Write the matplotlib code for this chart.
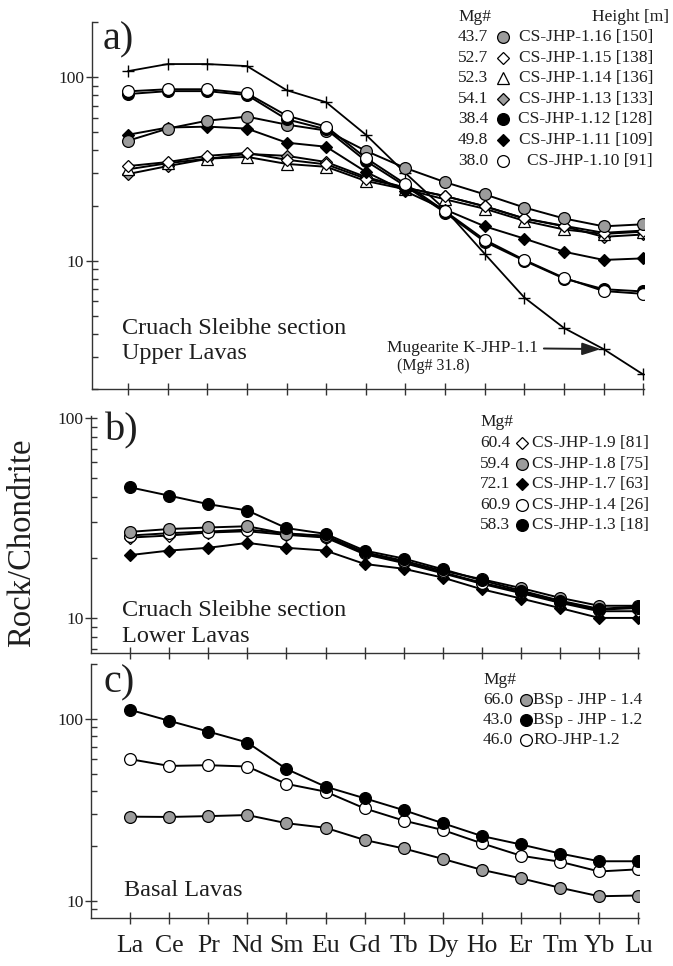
import matplotlib
matplotlib.use("Agg")
import matplotlib.pyplot as plt
from matplotlib.ticker import LogLocator, NullFormatter, FixedLocator, FixedFormatter

plt.rcParams['font.family'] = ['Liberation Serif', 'DejaVu Serif']

# ---------------- data ----------------
elements = ["La", "Ce", "Pr", "Nd", "Sm", "Eu", "Gd", "Tb", "Dy", "Ho", "Er", "Tm", "Yb", "Lu"]

# Upper Lavas (Cruach Sleibhe section)
cs_116 = [45.1, 52.5, 58.0, 61.0, 55.2, 51.2, 39.7, 32.0, 26.8, 23.0, 19.5, 17.0, 15.4, 15.8]
cs_115 = [32.8, 34.5, 37.3, 38.7, 35.5, 33.5, 28.0, 25.0, 22.5, 19.8, 17.0, 15.5, 14.2, 14.6]
cs_114 = [31.5, 34.0, 36.0, 36.8, 33.7, 32.5, 27.2, 24.5, 21.6, 19.2, 16.5, 14.8, 14.0, 14.4]
cs_113 = [29.7, 32.8, 35.9, 38.2, 37.3, 34.5, 28.6, 25.0, 22.5, 19.8, 17.0, 15.4, 13.5, 13.9]
cs_112 = [81.0, 84.0, 84.0, 80.0, 59.0, 52.0, 35.0, 25.5, 18.3, 12.7, 10.0, 8.0, 7.0, 6.8]
cs_111 = [48.6, 53.2, 53.8, 52.5, 44.0, 41.8, 30.5, 23.9, 19.0, 15.4, 13.2, 11.2, 10.1, 10.3]
cs_110 = [83.8, 86.0, 86.0, 81.7, 61.8, 53.8, 36.3, 26.2, 18.6, 13.0, 10.1, 8.07, 6.84, 6.6]
mugearite = [108, 118, 118, 115, 85, 73, 48.6, 30, 19, 10.9, 6.3, 4.3, 3.3, 2.4]

upper_mg = ["43.7", "52.7", "52.3", "54.1", "38.4", "49.8", "38.0"]
upper_names = ["CS-JHP-1.16 [150]", "CS-JHP-1.15 [138]", "CS-JHP-1.14 [136]",
               "CS-JHP-1.13 [133]", "CS-JHP-1.12 [128]", "CS-JHP-1.11 [109]",
               "CS-JHP-1.10 [91]"]

# Lower Lavas (Cruach Sleibhe section)
cs_19 = [25.2, 25.8, 26.7, 27.1, 26.0, 25.2, 20.8, 18.8, 16.7, 14.8, 13.3, 11.9, 10.8, 10.8]
cs_18 = [26.9, 27.8, 28.3, 28.7, 26.3, 25.8, 21.3, 19.3, 17.2, 15.6, 14.1, 12.6, 11.5, 11.5]
cs_17 = [20.6, 21.7, 22.4, 23.7, 22.4, 21.7, 18.6, 17.6, 15.9, 13.9, 12.5, 11.2, 10.0, 10.0]
cs_14 = [25.8, 26.5, 27.0, 27.6, 26.5, 25.5, 21.0, 19.0, 16.9, 15.0, 13.5, 12.0, 11.0, 11.2]
cs_13 = [44.9, 40.8, 37.0, 34.4, 28.1, 26.3, 21.7, 19.8, 17.5, 15.4, 13.7, 12.2, 11.1, 11.4]

lower_mg = ["60.4", "59.4", "72.1", "60.9", "58.3"]
lower_names = ["CS-JHP-1.9 [81]", "CS-JHP-1.8 [75]", "CS-JHP-1.7 [63]",
               "CS-JHP-1.4 [26]", "CS-JHP-1.3 [18]"]

# Basal Lavas
bsp_14 = [29.0, 28.9, 29.2, 29.6, 26.7, 25.2, 21.6, 19.4, 17.0, 14.8, 13.3, 11.8, 10.6, 10.7]
bsp_12 = [112, 97.5, 85.1, 74.1, 53.0, 42.4, 36.6, 31.5, 26.7, 22.7, 20.4, 18.2, 16.5, 16.5]
ro_12 = [60.0, 55.1, 55.6, 54.7, 43.9, 39.8, 32.2, 27.6, 24.5, 20.7, 17.7, 16.4, 14.5, 14.9]

basal_mg = ["66.0", "43.0", "46.0"]
basal_names = ["BSp - JHP - 1.4", "BSp - JHP - 1.2", "RO-JHP-1.2"]

# ---------------- styles ----------------
W, H = 673, 966
GREY = "#9c9c9c"
TXT = "#1e1e1e"
AX = "#333333"

STY = {
    "grey_circle": dict(marker="o", ms=8.5, mfc=GREY, mec="black", mew=0.9),
    "white_circle": dict(marker="o", ms=8.5, mfc="white", mec="black", mew=0.9),
    "black_circle": dict(marker="o", ms=8.5, mfc="black", mec="black", mew=0.9),
    "white_diamond": dict(marker="D", ms=6, mfc="white", mec="black", mew=0.9),
    "grey_diamond": dict(marker="D", ms=6, mfc=GREY, mec="black", mew=0.9),
    "black_diamond": dict(marker="D", ms=6, mfc="black", mec="black", mew=0.9),
    "white_triangle": dict(marker="^", ms=8, mfc="white", mec="black", mew=0.9),
    "plus": dict(marker="+", ms=8, mfc="black", mec="black", mew=1.0),
}

fig = plt.figure(figsize=(W / 100, H / 100), dpi=100)


def px_axes(left, top, right, bottom):
    return fig.add_axes([left / W, 1 - bottom / H, (right - left) / W, (bottom - top) / H])


def fx(x):
    return x / W


def fy(y):
    return 1 - y / H


def style_axes(ax, ylim, xlim, show_xlabels=False):
    ax.set_yscale("log")
    ax.set_ylim(*ylim)
    ax.set_xlim(*xlim)
    for s in ("top", "right"):
        ax.spines[s].set_visible(False)
    for s in ("left", "bottom"):
        ax.spines[s].set_color(AX)
        ax.spines[s].set_linewidth(1.0)
    ax.yaxis.set_major_locator(LogLocator(base=10, numticks=10))
    ax.yaxis.set_minor_locator(LogLocator(base=10, subs=range(2, 10), numticks=20))
    ax.yaxis.set_minor_formatter(NullFormatter())
    ax.yaxis.set_major_formatter(plt.FuncFormatter(lambda v, p: f"{v:g}"))
    ax.tick_params(axis="y", which="major", direction="inout", length=9, width=1.0,
                   color=AX, labelsize=12.5, labelcolor=TXT, pad=1)
    ax.tick_params(axis="y", which="minor", direction="in", length=4, width=1.0, color=AX)
    ax.xaxis.set_major_locator(FixedLocator(range(len(elements))))
    if show_xlabels:
        ax.xaxis.set_major_formatter(FixedFormatter(elements))
    else:
        ax.xaxis.set_major_formatter(NullFormatter())
    ax.tick_params(axis="x", which="major", direction="inout", length=9, width=1.0,
                   color=AX, labelsize=18.5, labelcolor=TXT, pad=8)
    ax.patch.set_alpha(0)


def series(ax, vals, key, lw=1.4, z=2):
    ax.plot(range(len(vals)), vals, color="black", lw=lw, zorder=z, **STY[key])


def legend_rows(header_xy, rows, x_val, x_mark, x_txt, y0, dy, ha_txt="left", fs=12.5):
    fig.text(fx(header_xy[0]), fy(header_xy[1]), "Mg#", fontsize=fs, color=TXT,
             ha="left", va="center")
    for i, (mg, key, name) in enumerate(rows):
        y = y0 + i * dy
        fig.text(fx(x_val), fy(y), mg, fontsize=fs, color=TXT, ha="left", va="center")
        fig.add_artist(plt.Line2D([fx(x_mark)], [fy(y)], transform=fig.transFigure,
                                  ls="none", **STY[key]))
        fig.text(fx(x_txt), fy(y), name, fontsize=fs, color=TXT, ha=ha_txt, va="center")


# ---------------- panel a: Upper Lavas ----------------
ax_a = px_axes(91.7, 22, 644, 389)
style_axes(ax_a, (2, 200), (-0.92, 13.02))
series(ax_a, mugearite, "plus", lw=1.3)
series(ax_a, cs_113, "grey_diamond")
series(ax_a, cs_114, "white_triangle")
series(ax_a, cs_115, "white_diamond")
series(ax_a, cs_111, "black_diamond")
series(ax_a, cs_116, "grey_circle")
series(ax_a, cs_112, "black_circle")
series(ax_a, cs_110, "white_circle")

ax_a.annotate("Mugearite K-JHP-1.1", xy=(12, mugearite[12]), xytext=(-47, 1),
              textcoords="offset points", ha="right", va="center", fontsize=12.5,
              color=TXT,
              arrowprops=dict(arrowstyle="-|>,head_length=0.9,head_width=0.3",
                              color="#222222", lw=1.4, shrinkA=2, shrinkB=2))
fig.text(fx(397), fy(366), "(Mg# 31.8)", fontsize=11.5, color=TXT, ha="left", va="center")
fig.text(fx(122), fy(328), "Cruach Sleibhe section", fontsize=17.5, color=TXT,
         ha="left", va="center")
fig.text(fx(122), fy(353), "Upper Lavas", fontsize=17.5, color=TXT, ha="left", va="center")
fig.text(fx(103), fy(40), "a)", fontsize=29, color=TXT, ha="left", va="center")

fig.text(fx(669), fy(17), "Height [m]", fontsize=12.5, color=TXT, ha="right", va="center")
legend_rows((458, 17),
            list(zip(upper_mg,
                     ["grey_circle", "white_diamond", "white_triangle", "grey_diamond",
                      "black_circle", "black_diamond", "white_circle"],
                     upper_names)),
            x_val=458, x_mark=503, x_txt=653, y0=37, dy=20.6, ha_txt="right")

# ---------------- panel b: Lower Lavas ----------------
ax_b = px_axes(91, 416, 639, 653)
style_axes(ax_b, (6.68, 102), (-1.0, 13.02))
series(ax_b, cs_17, "black_diamond")
series(ax_b, cs_19, "white_diamond")
series(ax_b, cs_14, "white_circle")
series(ax_b, cs_18, "grey_circle")
series(ax_b, cs_13, "black_circle")

fig.text(fx(122), fy(611), "Cruach Sleibhe section", fontsize=17.5, color=TXT,
         ha="left", va="center")
fig.text(fx(122), fy(637), "Lower Lavas", fontsize=17.5, color=TXT, ha="left", va="center")
fig.text(fx(105), fy(431), "b)", fontsize=29, color=TXT, ha="left", va="center")

legend_rows((480, 422),
            list(zip(lower_mg,
                     ["white_diamond", "grey_circle", "black_diamond", "white_circle",
                      "black_circle"],
                     lower_names)),
            x_val=480, x_mark=522, x_txt=532, y0=443, dy=20.6)

# ---------------- panel c: Basal Lavas ----------------
ax_c = px_axes(91, 664, 639, 918)
style_axes(ax_c, (8.05, 200), (-1.0, 13.02), show_xlabels=True)
series(ax_c, bsp_14, "grey_circle")
series(ax_c, ro_12, "white_circle")
series(ax_c, bsp_12, "black_circle")

fig.text(fx(124), fy(891), "Basal Lavas", fontsize=17.5, color=TXT, ha="left", va="center")
fig.text(fx(103), fy(683), "c)", fontsize=29, color=TXT, ha="left", va="center")

legend_rows((483, 680),
            list(zip(basal_mg, ["grey_circle", "black_circle", "white_circle"], basal_names)),
            x_val=483, x_mark=526, x_txt=533, y0=700, dy=20)

# shared y label
fig.text(fx(22), fy(543), "Rock/Chondrite", fontsize=23.5, color=TXT, rotation=90,
         ha="center", va="center")

fig.savefig("out.png", dpi=100, facecolor="white")
